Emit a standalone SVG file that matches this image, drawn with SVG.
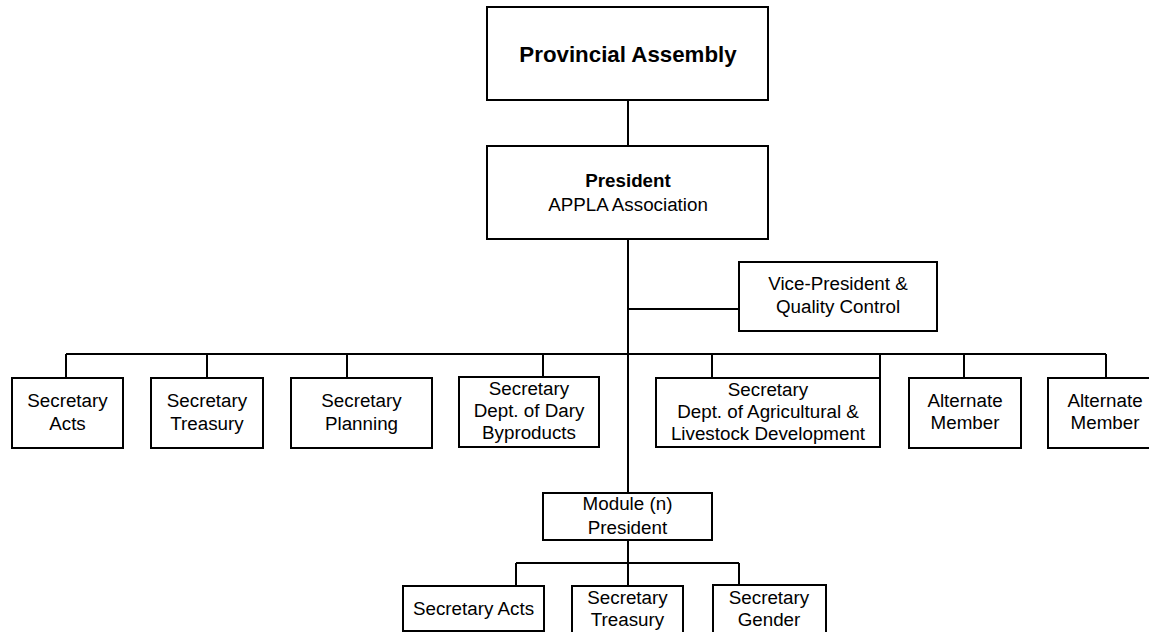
<svg xmlns="http://www.w3.org/2000/svg" width="1149" height="632" viewBox="0 0 1149 632">
<style>
.box{fill:#fff;stroke:#000;stroke-width:2}
.ln{stroke:#000;stroke-width:2;fill:none}
text{font-family:"Liberation Sans",Arial,sans-serif;font-size:18.8px;fill:#000;text-anchor:middle}
.b{font-weight:bold}
</style>
<rect width="1149" height="632" fill="#fff"/>
<g id="connectors">
<path class="ln" d="M628,100V146 M628,239V493 M628,309H739 M66,354H1106 M66,354V378 M207,354V378 M347,354V378 M543,354V377 M712,354V378 M880,354V378 M964,354V378 M1106,354V378 M628,540V563 M516,563H739 M516,563V586 M628,563V586 M739,563V585"/>
</g>
<g id="provincial-assembly"><rect class="box" x="487" y="7" width="281" height="93"/><text class="b" x="628" y="62" style="font-size:22.3px">Provincial Assembly</text></g>
<g id="president"><rect class="box" x="487" y="146" width="281" height="93"/><text class="b" x="628" y="187">President</text><text x="628" y="211">APPLA Association</text></g>
<g id="vice-president"><rect class="box" x="739" y="262" width="198" height="69"/><text x="838" y="290">Vice-President &amp;</text><text x="838" y="313">Quality Control</text></g>
<g id="sec-acts"><rect class="box" x="12" y="378" width="111" height="70"/><text x="67.5" y="407">Secretary</text><text x="67.5" y="430">Acts</text></g>
<g id="sec-treasury"><rect class="box" x="151" y="378" width="112" height="70"/><text x="207" y="407">Secretary</text><text x="207" y="430">Treasury</text></g>
<g id="sec-planning"><rect class="box" x="291" y="378" width="141" height="70"/><text x="361.5" y="407">Secretary</text><text x="361.5" y="430">Planning</text></g>
<g id="sec-dairy"><rect class="box" x="459" y="377" width="140" height="70"/><text x="529" y="395">Secretary</text><text x="529" y="417">Dept. of Dary</text><text x="529" y="439">Byproducts</text></g>
<g id="sec-agri"><rect class="box" x="656" y="378" width="224" height="69"/><text x="768" y="396">Secretary</text><text x="768" y="418">Dept. of Agricultural &amp;</text><text x="768" y="440">Livestock Development</text></g>
<g id="alternate-1"><rect class="box" x="909" y="378" width="112" height="70"/><text x="965" y="407">Alternate</text><text x="965" y="429">Member</text></g>
<g id="alternate-2"><rect class="box" x="1048" y="378" width="114" height="70"/><text x="1105" y="407">Alternate</text><text x="1105" y="429">Member</text></g>
<g id="module-president"><rect class="box" x="543" y="493" width="169" height="47"/><text x="627.5" y="510">Module (n)</text><text x="627.5" y="534">President</text></g>
<g id="mod-sec-acts"><rect class="box" x="403" y="586" width="141" height="45"/><text x="473.5" y="615">Secretary Acts</text></g>
<g id="mod-sec-treasury"><rect class="box" x="572" y="586" width="111" height="54"/><text x="627.5" y="604">Secretary</text><text x="627.5" y="626">Treasury</text></g>
<g id="mod-sec-gender"><rect class="box" x="713" y="585" width="113" height="55"/><text x="769" y="604">Secretary</text><text x="769" y="626">Gender</text></g>
</svg>
